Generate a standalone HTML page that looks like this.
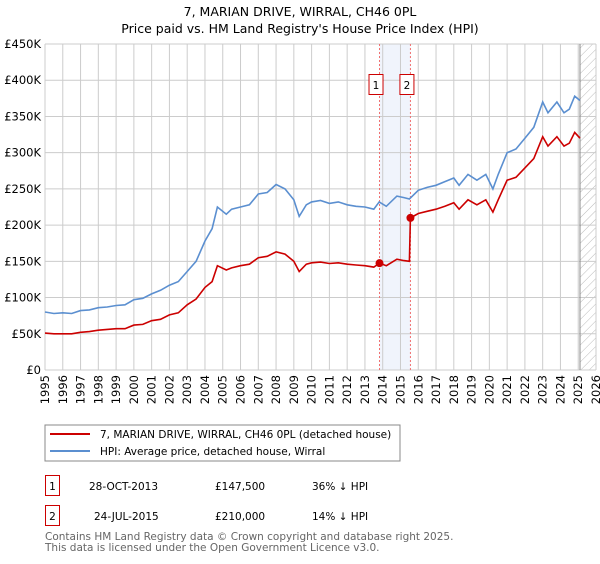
<!DOCTYPE html>
<html><head><meta charset="utf-8"><style>
body{margin:0;background:#fff;font-family:"DejaVu Sans","Liberation Sans",sans-serif;}
svg text{font-family:"DejaVu Sans","Liberation Sans",sans-serif;}
</style></head><body>
<svg id="c" width="600" height="560" viewBox="0 0 600 560" xmlns="http://www.w3.org/2000/svg">
<defs><pattern id="hatch" width="6" height="6" patternUnits="userSpaceOnUse" patternTransform="rotate(45)"><line x1="0" y1="0" x2="0" y2="6" stroke="#bbb" stroke-width="1"/></pattern></defs>
<text x="300" y="16" text-anchor="middle" font-size="12.5" fill="#000">7, MARIAN DRIVE, WIRRAL, CH46 0PL</text>
<text x="300" y="33" text-anchor="middle" font-size="12.5" fill="#000">Price paid vs. HM Land Registry's House Price Index (HPI)</text>
<g id="grid"></g><g id="marks"></g>
<rect x="45" y="425" width="355" height="36" fill="#fff" stroke="#888"/>
<line x1="50" y1="434" x2="90" y2="434" stroke="#cc0000" stroke-width="2"/>
<text x="100" y="438" font-size="10.5">7, MARIAN DRIVE, WIRRAL, CH46 0PL (detached house)</text>
<line x1="50" y1="451" x2="90" y2="451" stroke="#5b8fd0" stroke-width="2"/>
<text x="100" y="455" font-size="10.5">HPI: Average price, detached house, Wirral</text>
<rect x="45.5" y="475.5" width="14" height="20" fill="none" stroke="#cc0000"/>
<text x="52.5" y="490" font-size="10.5" text-anchor="middle">1</text>
<text x="89" y="490" font-size="10.5">28-OCT-2013</text>
<text x="215" y="490" font-size="10.5">£147,500</text>
<text x="312" y="490" font-size="10.5">36% ↓ HPI</text>
<rect x="45.5" y="505.5" width="14" height="20" fill="none" stroke="#cc0000"/>
<text x="52.5" y="520" font-size="10.5" text-anchor="middle">2</text>
<text x="94" y="520" font-size="10.5">24-JUL-2015</text>
<text x="215" y="520" font-size="10.5">£210,000</text>
<text x="312" y="520" font-size="10.5">14% ↓ HPI</text>
<text x="45" y="540" font-size="10.5" fill="#666">Contains HM Land Registry data © Crown copyright and database right 2025.</text>
<text x="45" y="551" font-size="10.5" fill="#666">This data is licensed under the Open Government Licence v3.0.</text>
</svg>
<script>
const yTicks=[0,50,100,150,200,250,300,350,400,450];
const yTickLabels=["£0","£50K","£100K","£150K","£200K","£250K","£300K","£350K","£400K","£450K"];
const xYears=[1995,1996,1997,1998,1999,2000,2001,2002,2003,2004,2005,2006,2007,2008,2009,2010,2011,2012,2013,2014,2015,2016,2017,2018,2019,2020,2021,2022,2023,2024,2025,2026];
const hpiDates=[1995,1995.5,1996,1996.5,1997,1997.5,1998,1998.5,1999,1999.5,2000,2000.5,2001,2001.5,2002,2002.5,2003,2003.5,2004,2004.4,2004.7,2005.2,2005.5,2006,2006.5,2007,2007.5,2008,2008.5,2009,2009.3,2009.7,2010,2010.5,2011,2011.5,2012,2012.5,2013,2013.5,2013.8,2014.2,2014.8,2015.2,2015.5,2016,2016.5,2017,2017.5,2018,2018.3,2018.8,2019.3,2019.8,2020.2,2020.5,2021,2021.5,2022,2022.5,2023,2023.3,2023.8,2024.2,2024.5,2024.8,2025.1];
const hpiValues=[80,78,79,78,82,83,86,87,89,90,97,99,105,110,117,122,136,150,178,195,225,215,222,225,228,243,245,256,250,235,212,228,232,234,230,232,228,226,225,222,232,226,240,238,236,248,252,255,260,265,255,270,262,270,250,270,300,305,320,335,370,355,370,355,360,378,372];
const saleDates=[1995,1995.5,1996,1996.5,1997,1997.5,1998,1998.5,1999,1999.5,2000,2000.5,2001,2001.5,2002,2002.5,2003,2003.5,2004,2004.4,2004.7,2005.2,2005.5,2006,2006.5,2007,2007.5,2008,2008.5,2009,2009.3,2009.7,2010,2010.5,2011,2011.5,2012,2012.5,2013,2013.5,2013.82,2014.2,2014.8,2015.2,2015.5,2015.56,2016,2016.5,2017,2017.5,2018,2018.3,2018.8,2019.3,2019.8,2020.2,2020.5,2021,2021.5,2022,2022.5,2023,2023.3,2023.8,2024.2,2024.5,2024.8,2025.1];
const saleValues=[51,50,50,50,52,53,55,56,57,57,62,63,68,70,76,79,90,98,114,122,144,138,141,144,146,155,157,163,160,150,136,146,148,149,147,148,146,145,144,142,147.5,144,153,151,150,210,216,219,222,226,231,222,235,228,235,218,235,262,266,279,292,322,309,322,309,313,328,320];
const saleMarkDates=[2013.82,2015.56];
const saleMarkValues=[147.5,210];
const saleMarkLabels=["1","2"];
const X0=45,X1=596,Y0=370,Y1=44;
const xs=y=>X0+(y-1995)/(2026-1995)*(X1-X0);
const ys=v=>Y0-v/450*(Y0-Y1);
const NS="http://www.w3.org/2000/svg";
const grid=document.getElementById('grid'),marks=document.getElementById('marks');
function mk(tag,attrs,parent){const e=document.createElementNS(NS,tag);for(const k in attrs)e.setAttribute(k,attrs[k]);parent.appendChild(e);return e;}
let band=mk('rect',{x:xs(saleMarkDates[0]),y:Y1,width:xs(saleMarkDates[1])-xs(saleMarkDates[0]),height:Y0-Y1,fill:'#f0f4fc'},grid);


let hat=mk('rect',{x:xs(2025.1),y:Y1,width:X1-xs(2025.1),height:Y0-Y1,fill:'url(#hatch)'},grid);


yTicks.forEach((t,i)=>{
 mk('line',{x1:X0,x2:X1,y1:ys(t),y2:ys(t),stroke:'#cccccc'},grid);
 const tx=mk('text',{x:X0-4,y:ys(t)+4,'text-anchor':'end','font-size':'11.5',fill:'#000'},grid);
 tx.textContent=yTickLabels[i];
 
 
});
xYears.forEach(yr=>{
 mk('line',{x1:xs(yr),x2:xs(yr),y1:Y1,y2:Y0,stroke:'#cccccc'},grid);
 const tx=mk('text',{x:0,y:0,'text-anchor':'end','font-size':'11.5',fill:'#000',transform:`translate(${xs(yr)+4},${Y0+5}) rotate(-90)`},grid);
 tx.textContent=yr;
 
 
});
mk('line',{x1:xs(2025.1),x2:xs(2025.1),y1:Y1,y2:Y0,stroke:'#888'},grid);
saleMarkDates.forEach((d,i)=>{
 const l=mk('line',{x1:xs(d),x2:xs(d),y1:Y1,y2:Y0,stroke:'#f07070','stroke-dasharray':'2,2'},marks);
 
 
 const r=mk('rect',{x:xs(d)-10.5,y:74.5,width:14,height:20,fill:'#fff',stroke:'#cc0000'},marks);
 
 
 const t=mk('text',{x:xs(d)-3.5,y:89,'text-anchor':'middle','font-size':'10.5'},marks);
 t.textContent=saleMarkLabels[i];
});
function path(ds,vs){return ds.map((d,i)=>(i?'L':'M')+xs(d).toFixed(1)+','+ys(vs[i]).toFixed(1)).join('');}
const hp=mk('path',{d:path(hpiDates,hpiValues),fill:'none',stroke:'#5b8fd0','stroke-width':1.6},marks);


const sp=mk('path',{d:path(saleDates,saleValues),fill:'none',stroke:'#cc0000','stroke-width':1.6},marks);


saleMarkDates.forEach((d,i)=>{
 const c=mk('circle',{cx:xs(d),cy:ys(saleMarkValues[i]),r:4,fill:'#cc0000'},marks);
 
 
});
</script>
</body></html>
